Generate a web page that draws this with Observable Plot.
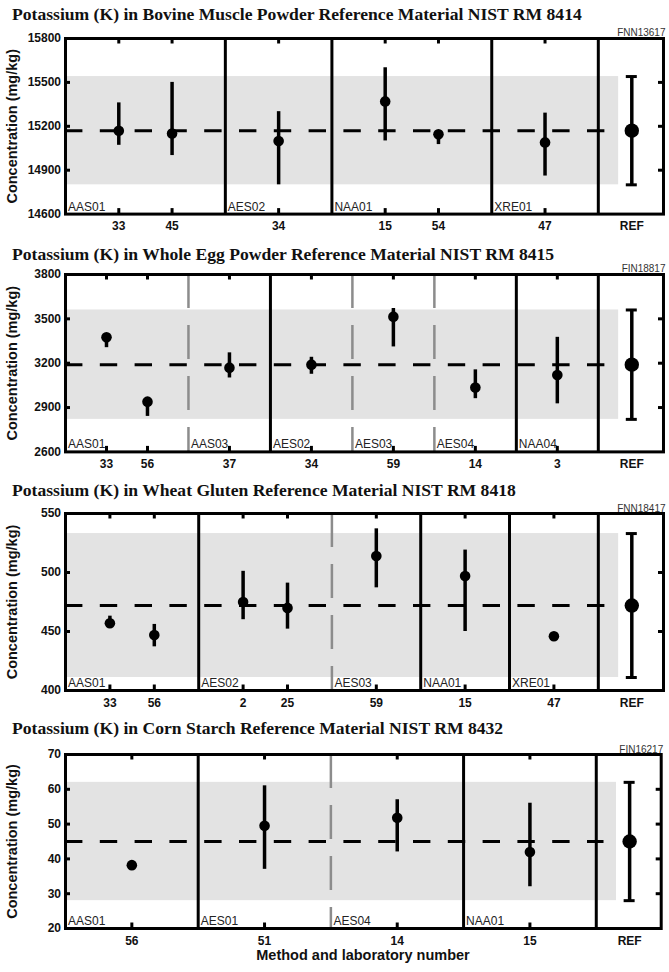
<!DOCTYPE html>
<html>
<head>
<meta charset="utf-8">
<script src="https://cdn.jsdelivr.net/npm/d3@7"></script>
<script src="https://cdn.jsdelivr.net/npm/@observablehq/plot@0.6"></script>
<style>
  html, body { margin: 0; padding: 0; background: #fff; }
  body { position: relative; width: 669px; height: 972px; overflow: hidden; }
  .title { position: absolute; left: 12px; white-space: nowrap; color: #111;
           font: bold 17.6px/17.6px "Liberation Serif", "Times New Roman", serif; }
  .panel { position: absolute; left: 0; }
  .xtitle { position: absolute; left: 65px; width: 596px; text-align: center; color: #111;
            font: bold 14.5px/14.5px "Liberation Sans", Arial, sans-serif; }
</style>
</head>
<body>
<script>
// Potassium (K) in Bovine Muscle Powder, NIST RM 8414
const bovineMethods = ["AAS01", "AES02", "NAA01", "XRE01"];
const bovineLabs = [["33", "45"], ["34"], ["15", "54"], ["47"]];
const bovineK = [15170, 15150, 15100, 15370, 15145, 15090];
const bovineKLow = [15070, 15000, 14800, 15100, 15075, 14860];
const bovineKHigh = [15360, 15500, 15300, 15600, 15160, 15290];
const bovineRef = [15170, 14800, 15540];
const bovineYTicks = [14600, 14900, 15200, 15500, 15800];

// Potassium (K) in Whole Egg Powder, NIST RM 8415
const eggMethods = ["AAS01", "AAS03", "AES02", "AES03", "AES04", "NAA04"];
const eggLabs = [["33", "56"], ["37"], ["34"], ["59"], ["14"], ["3"]];
const eggK = [3375, 2940, 3170, 3190, 3515, 3035, 3120];
const eggKLow = [3305, 2840, 3100, 3125, 3310, 2960, 2925];
const eggKHigh = [3390, 2955, 3270, 3240, 3570, 3155, 3375];
const eggRef = [3190, 2820, 3560];
const eggYTicks = [2600, 2900, 3200, 3500, 3800];

// Potassium (K) in Wheat Gluten, NIST RM 8418
const wheatMethods = ["AAS01", "AES02", "AES03", "NAA01", "XRE01"];
const wheatLabs = [["33", "56"], ["2", "25"], ["59"], ["15"], ["47"]];
const wheatK = [457, 447, 475, 470, 514, 497, 446];
const wheatKLow = [455, 437, 460, 452, 487, 450, null];
const wheatKHigh = [463, 456, 501, 491, 537, 519, null];
const wheatRef = [472, 411, 533];
const wheatYTicks = [400, 450, 500, 550];

// Potassium (K) in Corn Starch, NIST RM 8432
const cornMethods = ["AAS01", "AES01", "AES04", "NAA01"];
const cornLabs = [["56"], ["51"], ["14"], ["15"]];
const cornK = [38.2, 49.5, 51.8, 42];
const cornKLow = [null, 37, 42, 32];
const cornKHigh = [null, 61, 57, 56];
const cornRef = [45, 28, 62];
const cornYTicks = [20, 30, 40, 50, 60, 70];

const W = 669;
const ML = 65;

function addPanel(cfg) {
  const mt = 16, mb = 26;
  const mr = cfg.marginRight ?? 6;
  const plotW = W - ML - mr;
  const H = cfg.frameHeight;

  // One slot per laboratory, plus one slot for the divider closing each method
  let slot = 0, k = 0;
  const points = [], dividers = [], groups = [];
  cfg.methods.forEach((m, i) => {
    groups.push({x: slot, name: m});
    for (const lab of cfg.labs[i]) {
      slot += 1;
      points.push({x: slot, lab, value: cfg.values[k], low: cfg.low[k], high: cfg.high[k]});
      k += 1;
    }
    slot += 1;
    const next = cfg.methods[i + 1];
    dividers.push({x: slot, sameTechnique: next !== undefined && next.slice(0, 3) === m.slice(0, 3)});
  });

  // The reference column sits in a narrower strip right of the last divider
  const xMax = slot / 0.891;
  const pxPerUnit = plotW / xMax;
  const [refValue, refLow, refHigh] = cfg.ref;
  const refPoint = {x: xMax * 0.947, lab: "REF", value: refValue, low: refLow, high: refHigh};
  const capHalf = 5.5 / pxPerUnit;
  const caps = [refLow, refHigh].map(y => ({y, x1: refPoint.x - capHalf, x2: refPoint.x + capHalf}));
  const band = [{x1: 0, x2: xMax * 0.925, y1: refLow, y2: refHigh}];
  const refLine = [{y: refValue, x1: 0, x2: xMax * 0.904}];
  const bars = points.filter(d => d.low != null);
  const yInner = cfg.yTicks.slice(1, -1);

  const chart = Plot.plot({
    width: W,
    height: mt + H + mb,
    marginLeft: ML, marginRight: mr, marginTop: mt, marginBottom: mb,
    x: {domain: [0, xMax], axis: null},
    y: {domain: [cfg.yTicks[0], cfg.yTicks[cfg.yTicks.length - 1]], axis: null},
    style: {
      fontFamily: "'Liberation Sans', Arial, sans-serif",
      fontSize: "12px",
      fontWeight: "bold",
      color: "#000",
      background: "none",
      overflow: "visible"
    },
    marks: [
      Plot.rect(band, {x1: "x1", x2: "x2", y1: "y1", y2: "y2", fill: "#e3e3e3"}),
      Plot.ruleX(dividers.filter(d => d.sameTechnique), {x: "x", stroke: "#8c8c8c", strokeWidth: 2.5, strokeDasharray: "34,17"}),
      Plot.ruleX(dividers.filter(d => !d.sameTechnique), {x: "x", stroke: "#000", strokeWidth: 3}),
      Plot.ruleY(refLine, {y: "y", x1: "x1", x2: "x2", stroke: "#000", strokeWidth: 3, strokeDasharray: "17.4,17.4"}),
      Plot.ruleX(bars, {x: "x", y1: "low", y2: "high", stroke: "#000", strokeWidth: 3.5}),
      Plot.dot(points, {x: "x", y: "value", r: 5.3, fill: "#000", stroke: null}),
      Plot.ruleX([refPoint], {x: "x", y1: "low", y2: "high", stroke: "#000", strokeWidth: 3.5}),
      Plot.ruleY(caps, {y: "y", x1: "x1", x2: "x2", stroke: "#000", strokeWidth: 3}),
      Plot.dot([refPoint], {x: "x", y: "value", r: 7.2, fill: "#000", stroke: null}),
      Plot.frame({stroke: "#000", strokeWidth: 3}),
      // inward ticks on all four sides
      Plot.tickX(points, {x: "x", insetBottom: H - 5.5, stroke: "#000", strokeWidth: 3}),
      Plot.tickX(points, {x: "x", insetTop: H - 5.5, stroke: "#000", strokeWidth: 3}),
      Plot.tickY(yInner, {y: d => d, insetRight: plotW - 5, stroke: "#000", strokeWidth: 3}),
      Plot.tickY(yInner, {y: d => d, insetLeft: plotW - 5, stroke: "#000", strokeWidth: 3}),
      // tick labels
      Plot.text(points.concat([refPoint]), {x: "x", text: "lab", frameAnchor: "bottom", lineAnchor: "bottom", dy: 16, fill: "#111"}),
      Plot.text(cfg.yTicks, {y: d => d, text: d => String(d), frameAnchor: "left", textAnchor: "end", lineAnchor: "middle", dx: -4.5, fill: "#111"}),
      // method codes in the lower-left corner of each section
      Plot.text(groups, {x: "x", text: "name", frameAnchor: "bottom", textAnchor: "start", lineAnchor: "bottom", dx: 2.5, dy: -3.5, fontWeight: "normal", fontSize: 12, fill: "#222"}),
      Plot.text([cfg.id], {text: d => d, frameAnchor: "top-right", textAnchor: "end", lineAnchor: "bottom", dx: 2, dy: -2, fontWeight: "normal", fontSize: 10, fill: "#333"}),
      Plot.text(["Concentration (mg/kg)"], {text: d => d, frameAnchor: "left", textAnchor: "middle", lineAnchor: "middle", rotate: -90, dx: -53, fontSize: 14.5, fill: "#111"})
    ]
  });
  chart.classList.add("panel");
  chart.style.top = (cfg.frameTop - mt) + "px";
  document.body.appendChild(chart);

  const t = document.createElement("div");
  t.className = "title";
  t.textContent = cfg.title;
  t.style.top = (cfg.titleBaseline - 14.74) + "px";
  document.body.appendChild(t);
}

addPanel({
  title: "Potassium (K) in Bovine Muscle Powder Reference Material NIST RM 8414",
  id: "FNN13617",
  methods: bovineMethods, labs: bovineLabs, values: bovineK, low: bovineKLow, high: bovineKHigh,
  ref: bovineRef, yTicks: bovineYTicks,
  titleBaseline: 20.7, frameTop: 37.7, frameHeight: 175.6
});
addPanel({
  title: "Potassium (K) in Whole Egg Powder Reference Material NIST RM 8415",
  id: "FIN18817",
  methods: eggMethods, labs: eggLabs, values: eggK, low: eggKLow, high: eggKHigh,
  ref: eggRef, yTicks: eggYTicks,
  titleBaseline: 260.7, frameTop: 274.3, frameHeight: 177.4
});
addPanel({
  title: "Potassium (K) in Wheat Gluten Reference Material NIST RM 8418",
  id: "FNN18417",
  methods: wheatMethods, labs: wheatLabs, values: wheatK, low: wheatKLow, high: wheatKHigh,
  ref: wheatRef, yTicks: wheatYTicks,
  titleBaseline: 496.7, frameTop: 513, frameHeight: 177
});
addPanel({
  title: "Potassium (K) in Corn Starch Reference Material NIST RM 8432",
  id: "FIN16217",
  methods: cornMethods, labs: cornLabs, values: cornK, low: cornKLow, high: cornKHigh,
  ref: cornRef, yTicks: cornYTicks,
  titleBaseline: 734.3, frameTop: 754.3, frameHeight: 174, marginRight: 8.3
});

const xt = document.createElement("div");
xt.className = "xtitle";
xt.textContent = "Method and laboratory number";
xt.style.top = (960 - 12.27) + "px";
document.body.appendChild(xt);
</script>
</body>
</html>
